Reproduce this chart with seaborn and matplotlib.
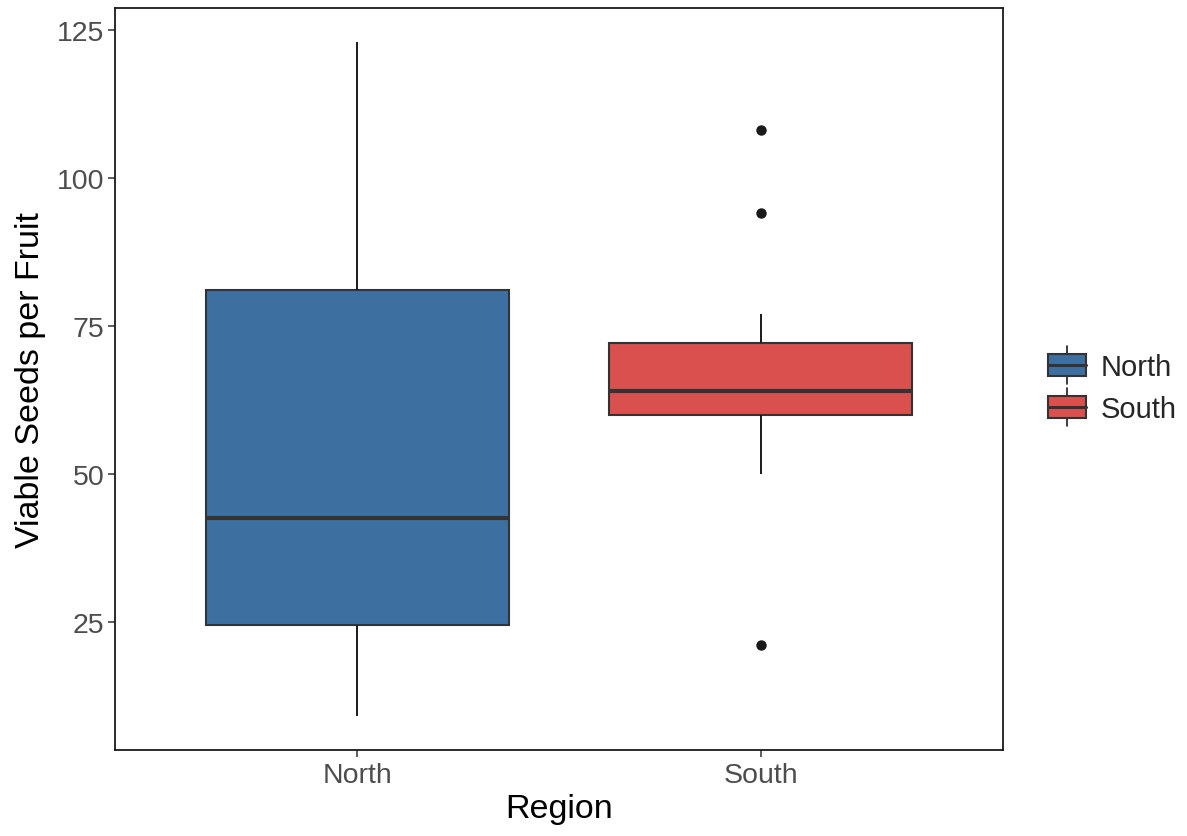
import numpy as np
import pandas as pd
import matplotlib
matplotlib.use("Agg")
import matplotlib.pyplot as plt
import seaborn as sns
from matplotlib.legend_handler import HandlerBase
from matplotlib.patches import Rectangle
from matplotlib.lines import Line2D

# ---- data (raw values chosen to reproduce the box statistics)
regions = ["North", "South"]
north_seeds = [9, 18, 24.5, 33, 42.5, 62, 81, 102, 123]
south_seeds = [21, 50, 55, 60, 62, 63, 64, 67, 70, 72, 77, 94, 108]
region_colors = {"North": "#3D6FA1", "South": "#D9504F"}
y_ticks = [25, 50, 75, 100, 125]

df = pd.DataFrame({
    "Region": ["North"] * len(north_seeds) + ["South"] * len(south_seeds),
    "Seeds": north_seeds + south_seeds,
})

sns.set_theme(style="white")
plt.rcParams["font.family"] = ["Liberation Sans", "DejaVu Sans"]

W, H = 1187, 837
fig = plt.figure(figsize=(W / 100, H / 100), dpi=100)
ax = fig.add_axes([115 / W, 1 - 751 / H, (1003 - 115) / W, (751 - 9) / H])

edge = "#333333"
sns.boxplot(
    data=df, x="Region", y="Seeds", hue="Region", order=regions, hue_order=regions,
    palette=region_colors, saturation=1, width=0.75, legend=False, ax=ax,
    linecolor=edge, linewidth=1.5,
    medianprops=dict(color=edge, linewidth=3.0),
    whiskerprops=dict(color="#1A1A1A", linewidth=1.4),
    capprops=dict(linewidth=0),
    flierprops=dict(marker="o", markerfacecolor="#1A1A1A", markeredgecolor="#1A1A1A",
                    markersize=6.5),
)

ax.set_xlim(-0.6, 1.6)
ax.set_ylim(3.3, 128.7)
ax.set_yticks(y_ticks)
ax.set_yticklabels([str(t) for t in y_ticks])
ax.grid(False)
for s in ax.spines.values():
    s.set_visible(True)
    s.set_color("#1A1A1A")
    s.set_linewidth(1.3)

ax.tick_params(axis="both", which="major", direction="out", length=5, width=1.1,
               color="#333333", labelcolor="#4D4D4D", labelsize=20.5, left=True, bottom=True)
ax.tick_params(axis="y", pad=2.5)
ax.tick_params(axis="x", pad=3.5)

ax.set_xlabel("Region", fontsize=24.5, color="black", labelpad=4)
ax.set_ylabel("Viable Seeds per Fruit", fontsize=24.5, color="black", labelpad=8)


class BoxKeyHandler(HandlerBase):
    def __init__(self, color):
        super().__init__()
        self.color = color

    def create_artists(self, legend, orig_handle, xdescent, ydescent, width, height,
                       fontsize, trans):
        x0, y0 = -xdescent, -ydescent
        bh = height * 0.62
        by = y0 + (height - bh) / 2
        rect = Rectangle((x0, by), width, bh, facecolor=self.color, edgecolor=edge,
                         linewidth=1.5, transform=trans)
        med = Line2D([x0, x0 + width], [y0 + height / 2] * 2, color=edge, linewidth=2.2,
                     transform=trans)
        cx = x0 + width / 2
        w1 = Line2D([cx, cx], [by + bh, y0 + height + 1], color="#1A1A1A", linewidth=1.2,
                    transform=trans)
        w2 = Line2D([cx, cx], [y0 - 1, by], color="#1A1A1A", linewidth=1.2, transform=trans)
        return [w1, w2, rect, med]


handles = [Rectangle((0, 0), 1, 1) for _ in regions]
handler_map = {h: BoxKeyHandler(region_colors[r]) for h, r in zip(handles, regions)}
fig.legend(handles, regions, handler_map=handler_map, loc="center left",
           bbox_to_anchor=(1028 / W, 1 - 387 / H), frameon=False, fontsize=21,
           handlelength=1.3, handleheight=1.45, labelspacing=0.25, handletextpad=0.5,
           borderpad=0.2)

fig.savefig("out.png", dpi=100)
